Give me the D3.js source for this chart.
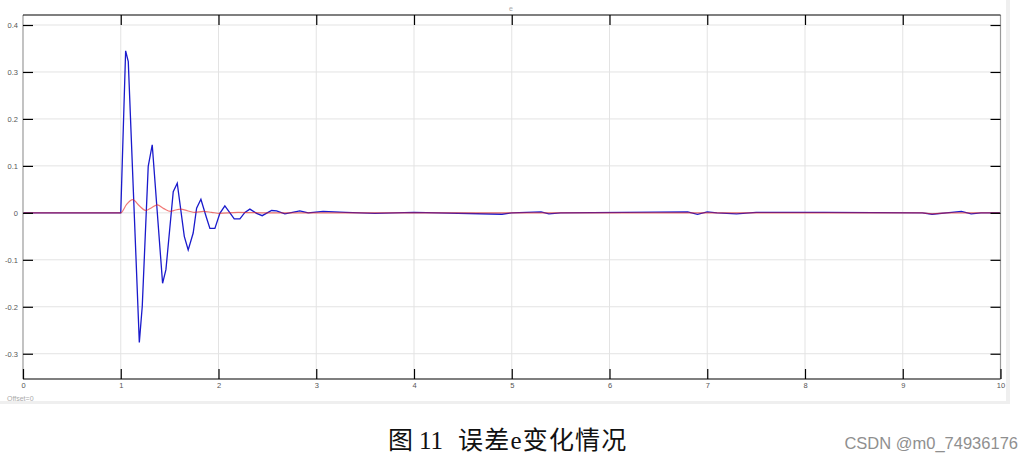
<!DOCTYPE html>
<html>
<head>
<meta charset="utf-8">
<script src="https://cdn.jsdelivr.net/npm/d3@7"></script>
<style>
  html, body { margin: 0; padding: 0; background: #fff; }
  svg { display: block; }
</style>
</head>
<body>
<svg id="chart" width="1034" height="462"></svg>
<script>
// ---- data ----
const xTicks = [0, 1, 2, 3, 4, 5, 6, 7, 8, 9, 10];
const yTicks = [0.4, 0.3, 0.2, 0.1, 0, -0.1, -0.2, -0.3];
const yTickLabels = ["0.4", "0.3", "0.2", "0.1", "0", "-0.1", "-0.2", "-0.3"];

const blueTime = [0, 1.0, 1.05, 1.077, 1.19, 1.22, 1.281, 1.322, 1.428, 1.462, 1.537, 1.578,
  1.65, 1.69, 1.741, 1.776, 1.82, 1.878, 1.912, 1.963, 2.014, 2.065, 2.117, 2.161, 2.219,
  2.27, 2.321, 2.39, 2.447, 2.543, 2.594, 2.679, 2.832, 2.917, 3.07, 3.3, 3.6, 4.0, 4.9,
  5.0, 5.3, 5.38, 5.5, 6.8, 6.9, 7.0, 7.1, 7.3, 7.5, 8.2, 9.2, 9.3, 9.5, 9.6, 9.7, 9.8, 10];
const blueValue = [0, 0, 0.345, 0.322, -0.276, -0.199, 0.099, 0.145, -0.150, -0.121, 0.045, 0.063,
  -0.050, -0.079, -0.043, 0.010, 0.029, -0.011, -0.033, -0.033, -0.001, 0.015, 0.0, -0.013, -0.013,
  0.001, 0.008, -0.001, -0.006, 0.005, 0.004, -0.002, 0.004, 0.0, 0.003, 0.001, -0.001, 0.001, -0.003,
  0.0, 0.002, -0.002, 0.0, 0.002, -0.003, 0.002, 0.0, -0.002, 0.001, 0.001, 0.0, -0.003, 0.001, 0.003, -0.002, 0.0, 0.0];

const redTime = [0, 1.0, 1.06, 1.122, 1.19, 1.258, 1.315, 1.374, 1.44, 1.51, 1.56, 1.61, 1.69,
  1.76, 1.845, 1.93, 2.01, 2.2, 2.5, 3.0, 9.2, 9.3, 9.45, 10];
const redValue = [0, 0, 0.018, 0.028, 0.015, 0.005, 0.011, 0.017, 0.009, 0.003, 0.006, 0.008, 0.004,
  0.001, 0.003, 0.001, -0.001, 0.001, 0.0, 0.0, 0.0, -0.002, 0.0, 0.0];

// ---- layout ----
const L = 23, R = 1000.5, T = 15, B = 379;
const svg = d3.select("#chart");
const x = d3.scaleLinear().domain([0, 10]).range([L, R]);
const y = d3.scaleLinear().domain([-0.3538, 0.4213]).range([B, T]);

// panel frame strips
svg.append("rect").attr("x", 1006).attr("y", 0).attr("width", 4).attr("height", 404).attr("fill", "#efefef");
svg.append("rect").attr("x", 0).attr("y", 401).attr("width", 1010).attr("height", 3).attr("fill", "#efefef");

// grid
const grid = svg.append("g");
grid.selectAll("line.vx").data(xTicks.slice(1, -1)).join("line")
  .attr("x1", d => x(d)).attr("x2", d => x(d)).attr("y1", T).attr("y2", B)
  .attr("stroke", "#e3e3e3").attr("stroke-width", 1);
grid.selectAll("line.hy").data(yTicks).join("line")
  .attr("x1", L).attr("x2", R).attr("y1", d => y(d)).attr("y2", d => y(d))
  .attr("stroke", "#e3e3e3").attr("stroke-width", 1);

// series
const blueLine = d3.line().x(d => x(d[0])).y(d => y(d[1]));
const redLine = d3.line().x(d => x(d[0])).y(d => y(d[1])).curve(d3.curveMonotoneX);
const blueData = blueTime.map((t, i) => [t, blueValue[i]]);
const redData = redTime.map((t, i) => [t, redValue[i]]);

svg.append("path").datum(blueData).attr("d", blueLine)
  .attr("fill", "none").attr("stroke", "#1a1acc").attr("stroke-width", 1.3);
svg.append("path").datum(redData).attr("d", redLine)
  .attr("fill", "none").attr("stroke", "#e8201c").attr("stroke-width", 1.2).attr("stroke-opacity", 0.6);

// borders
svg.append("line").attr("x1", L).attr("x2", L).attr("y1", T).attr("y2", B).attr("stroke", "#9a9a9a").attr("stroke-width", 1.2);
svg.append("line").attr("x1", R).attr("x2", R).attr("y1", T).attr("y2", B).attr("stroke", "#9a9a9a").attr("stroke-width", 1.2);
svg.append("line").attr("x1", L).attr("x2", R).attr("y1", T).attr("y2", T).attr("stroke", "#000").attr("stroke-width", 1.2);
svg.append("line").attr("x1", L).attr("x2", R).attr("y1", B).attr("y2", B).attr("stroke", "#000").attr("stroke-width", 1.2);

// axes (inward ticks) via d3 axes
const tickLen = 10;
const bottomAxis = d3.axisBottom(x).tickValues(xTicks).tickSize(-tickLen).tickPadding(4).tickFormat(d3.format("d"));
const gB = svg.append("g").attr("transform", `translate(0,${B})`).call(bottomAxis);
const topAxis = d3.axisTop(x).tickValues(xTicks.slice(1, -1)).tickSize(-tickLen).tickFormat("");
const gT = svg.append("g").attr("transform", `translate(0,${T})`).call(topAxis);
const leftAxis = d3.axisLeft(y).tickValues(yTicks).tickSize(-tickLen).tickPadding(5)
  .tickFormat((d, i) => yTickLabels[i]);
const gL = svg.append("g").attr("transform", `translate(${L},0)`).call(leftAxis);
const rightAxis = d3.axisRight(y).tickValues(yTicks).tickSize(-tickLen).tickFormat("");
const gR = svg.append("g").attr("transform", `translate(${R},0)`).call(rightAxis);

[gB, gT, gL, gR].forEach(g => {
  g.select(".domain").remove();
  g.selectAll(".tick line").attr("stroke", "#000").attr("stroke-width", 1.2);
  g.selectAll(".tick text").attr("fill", "#555").attr("font-size", 7.5)
    .attr("font-family", "Liberation Sans, Arial, sans-serif");
});

// title "e" and offset label
svg.append("text").attr("x", 511).attr("y", 11).attr("text-anchor", "middle")
  .attr("font-size", 7).attr("fill", "#aaa").attr("font-family", "Liberation Sans, sans-serif").text("e");
svg.append("text").attr("x", 7).attr("y", 401).attr("font-size", 7).attr("fill", "#aaa")
  .attr("font-family", "Liberation Sans, sans-serif").text("Offset=0");

// caption
const cap = svg.append("text").attr("y", 449).attr("font-size", 25).attr("fill", "#111")
  .attr("font-family", "Liberation Serif, Noto Sans CJK SC, serif");
cap.append("tspan").attr("x", 388).text("图");
cap.append("tspan").attr("x", 419).text("11");
cap.append("tspan").attr("x", 458).attr("letter-spacing", 1.2).text("误差e变化情况");

// watermark
svg.append("text").attr("x", 1018).attr("y", 449).attr("text-anchor", "end").attr("font-size", 16.5)
  .attr("fill", "#8f8f8f").attr("font-family", "Liberation Sans, Arial, sans-serif").text("CSDN @m0_74936176");
</script>
</body>
</html>
